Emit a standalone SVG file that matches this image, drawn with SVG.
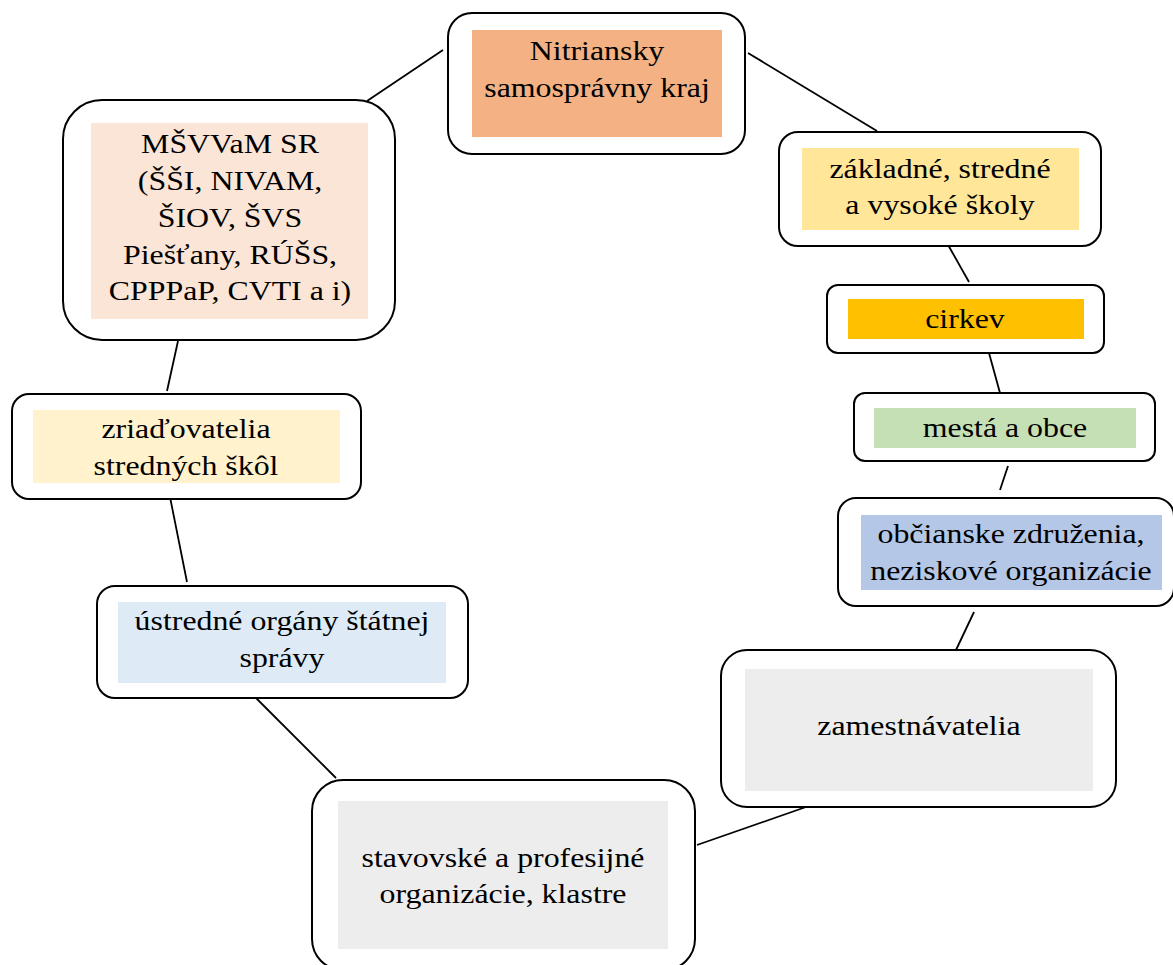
<svg xmlns="http://www.w3.org/2000/svg" width="1173" height="965" viewBox="0 0 1173 965">
<style>
.box{fill:#fff;stroke:#000;stroke-width:2}
.t{font-family:"Liberation Serif","Times New Roman",serif;font-size:27px;fill:#000;text-anchor:middle}
.c{stroke:#000;stroke-width:1.8;fill:none}
</style>
<rect width="1173" height="965" fill="#fff"/>
<g id="connectors">
<line class="c" x1="443" y1="50" x2="367" y2="101"/>
<line class="c" x1="748" y1="53" x2="877" y2="131"/>
<line class="c" x1="947" y1="243" x2="969" y2="282"/>
<line class="c" x1="989" y1="353" x2="1000" y2="393"/>
<line class="c" x1="1008" y1="466" x2="1000" y2="490"/>
<line class="c" x1="974" y1="612" x2="956" y2="650"/>
<line class="c" x1="806" y1="807" x2="697" y2="845"/>
<line class="c" x1="336" y1="778" x2="256" y2="698"/>
<line class="c" x1="187" y1="582" x2="170" y2="497"/>
<line class="c" x1="167" y1="391" x2="178" y2="341"/>
</g>
<g id="n1">
<rect class="box" x="448" y="13" width="297" height="141" rx="24"/>
<rect x="472" y="30" width="250" height="107" fill="#F4B183"/>
<g transform="translate(597,0) scale(1.18,1)"><text class="t" x="0" y="60">Nitriansky</text><text class="t" x="0" y="97">samosprávny kraj</text></g>
</g>
<g id="n2">
<rect class="box" x="63" y="100" width="332" height="240" rx="39"/>
<rect x="91" y="123" width="277" height="196" fill="#FBE5D6"/>
<g transform="translate(230,0) scale(1.18,1)"><text class="t" x="0" y="153">MŠVVaM SR</text><text class="t" x="0" y="190">(ŠŠI, NIVAM,</text><text class="t" x="0" y="227">ŠIOV, ŠVS</text><text class="t" x="0" y="264">Piešťany, RÚŠS,</text><text class="t" x="0" y="300">CPPPaP, CVTI a i)</text></g>
</g>
<g id="n3">
<rect class="box" x="779" y="132" width="322" height="114" rx="19"/>
<rect x="802" y="148" width="277" height="82" fill="#FFE699"/>
<g transform="translate(940,0) scale(1.18,1)"><text class="t" x="0" y="178">základné, stredné</text><text class="t" x="0" y="214">a vysoké školy</text></g>
</g>
<g id="n4">
<rect class="box" x="827" y="285" width="277" height="68" rx="11"/>
<rect x="848" y="299" width="236" height="40" fill="#FFC000"/>
<g transform="translate(965,0) scale(1.18,1)"><text class="t" x="0" y="328">cirkev</text></g>
</g>
<g id="n5">
<rect class="box" x="854" y="393" width="301" height="68" rx="11"/>
<rect x="874" y="408" width="262" height="40" fill="#C5E0B4"/>
<g transform="translate(1005,0) scale(1.18,1)"><text class="t" x="0" y="437">mestá a obce</text></g>
</g>
<g id="n6">
<rect class="box" x="838" y="498" width="336" height="108" rx="18"/>
<rect x="861" y="515" width="301" height="75" fill="#B4C7E7"/>
<g transform="translate(1011,0) scale(1.18,1)"><text class="t" x="0" y="543">občianske združenia,</text><text class="t" x="0" y="580">neziskové organizácie</text></g>
</g>
<g id="n7">
<rect class="box" x="12" y="394" width="349" height="105" rx="17"/>
<rect x="33" y="410" width="307" height="73" fill="#FFF2CC"/>
<g transform="translate(186,0) scale(1.18,1)"><text class="t" x="0" y="438">zriaďovatelia</text><text class="t" x="0" y="475">stredných škôl</text></g>
</g>
<g id="n8">
<rect class="box" x="97" y="586" width="371" height="112" rx="18"/>
<rect x="118" y="602" width="328" height="81" fill="#DEEBF7"/>
<g transform="translate(282,0) scale(1.18,1)"><text class="t" x="0" y="630">ústredné orgány štátnej</text><text class="t" x="0" y="667">správy</text></g>
</g>
<g id="n9">
<rect class="box" x="721" y="650" width="395" height="157" rx="26"/>
<rect x="745" y="669" width="348" height="122" fill="#EDEDED"/>
<g transform="translate(919,0) scale(1.18,1)"><text class="t" x="0" y="735">zamestnávatelia</text></g>
</g>
<g id="n10">
<rect class="box" x="312" y="780" width="383" height="190" rx="31"/>
<rect x="338" y="801" width="330" height="148" fill="#EDEDED"/>
<g transform="translate(503,0) scale(1.18,1)"><text class="t" x="0" y="867">stavovské a profesijné</text><text class="t" x="0" y="903">organizácie, klastre</text></g>
</g>
</svg>
